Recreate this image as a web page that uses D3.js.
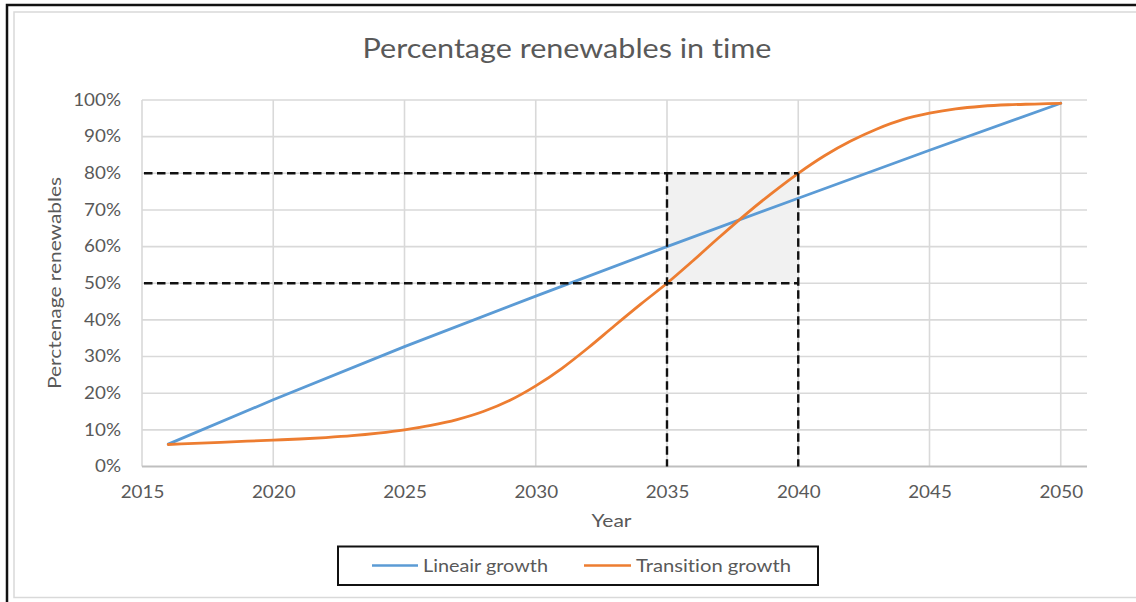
<!DOCTYPE html>
<html>
<head>
<meta charset="utf-8">
<script src="https://cdn.jsdelivr.net/npm/d3@7"></script>
<style>
  html, body { margin: 0; padding: 0; background: #ffffff; }
  svg { display: block; }
  text {
    font-family: Lato, "Open Sans", sans-serif;
    fill: #595959;
    font-variant-ligatures: none;
    font-feature-settings: "liga" 0, "clig" 0;
  }
</style>
</head>
<body>
<svg id="chart" width="1136" height="602"></svg>
<script>
// Years on the horizontal axis and percentage ticks on the vertical axis
const yearTicks = [2015, 2020, 2025, 2030, 2035, 2040, 2045, 2050];
const pctTicks = [0, 10, 20, 30, 40, 50, 60, 70, 80, 90, 100];

// Lineair growth series (year, % renewables)
const linearYears  = [2016, 2020, 2025, 2030, 2035, 2040, 2045, 2050];
const linearValues = [6.1, 18.2, 32.7, 46.5, 60.0, 73.2, 86.3, 99.1];

// Transition growth series (year, % renewables)
const transitionYears  = [2016, 2017, 2018, 2019, 2020, 2021, 2022, 2023, 2024, 2025, 2026,
                          2027, 2028, 2029, 2030, 2031, 2032, 2033, 2034, 2035, 2036, 2037,
                          2038, 2039, 2040, 2041, 2042, 2043, 2044, 2045, 2046, 2047, 2048,
                          2049, 2050];
const transitionValues = [6.0, 6.3, 6.6, 6.9, 7.2, 7.5, 7.9, 8.4, 9.1, 10.0, 11.2,
                          12.8, 15.0, 18.0, 22.0, 26.8, 32.4, 38.4, 44.3, 50.0, 56.2, 62.6,
                          68.8, 74.6, 80.0, 84.8, 88.8, 92.1, 94.7, 96.4, 97.6, 98.3, 98.7,
                          98.9, 99.1];

// Highlighted window: years 2035-2040, 50%-80%
const windowYears = [2035, 2040];
const windowPcts  = [50, 80];

const seriesNames = ["Lineair growth", "Transition growth"];
const seriesColors = ["#5b9bd5", "#ed7d31"];

const svg = d3.select("#chart");

// Stretch a text element horizontally to a given rendered width
function fitWidth(sel, width) {
  sel.attr("textLength", width).attr("lengthAdjust", "spacingAndGlyphs");
}
function scaleWidths(sel, factor) {
  sel.each(function () {
    const w = this.getComputedTextLength();
    d3.select(this).attr("textLength", w * factor).attr("lengthAdjust", "spacingAndGlyphs");
  });
}

// Outer frame and chart-area border
svg.append("path")
  .attr("d", "M7,610 L7,5 L1145,5")
  .attr("fill", "none").attr("stroke", "#111").attr("stroke-width", 2.5);
svg.append("rect")
  .attr("x", 14).attr("y", 12).attr("width", 1140).attr("height", 585.5)
  .attr("fill", "none").attr("stroke", "#d9d9d9").attr("stroke-width", 1.5);

const x = d3.scaleLinear().domain([2015, 2051]).range([142, 1087]);
const y = d3.scaleLinear().domain([0, 100]).range([466.5, 100]);

const plot = svg.append("g");

// Horizontal gridlines
plot.append("g")
  .selectAll("line")
  .data(pctTicks.filter(d => d > 0))
  .join("line")
  .attr("x1", x(2015)).attr("x2", x(2051))
  .attr("y1", d => y(d)).attr("y2", d => y(d))
  .attr("stroke", "#d9d9d9").attr("stroke-width", 1.6);

// Vertical gridlines
plot.append("g")
  .selectAll("line")
  .data(yearTicks)
  .join("line")
  .attr("x1", d => x(d)).attr("x2", d => x(d))
  .attr("y1", y(0)).attr("y2", y(100))
  .attr("stroke", "#d9d9d9").attr("stroke-width", 1.6);

// Baseline
plot.append("line")
  .attr("x1", x(2015)).attr("x2", x(2051))
  .attr("y1", y(0)).attr("y2", y(0))
  .attr("stroke", "#bfbfbf").attr("stroke-width", 1.8);

// Shaded window
plot.append("rect")
  .attr("x", x(windowYears[0])).attr("y", y(windowPcts[1]))
  .attr("width", x(windowYears[1]) - x(windowYears[0]))
  .attr("height", y(windowPcts[0]) - y(windowPcts[1]))
  .attr("fill", "#f1f1f1");

// Axes (labels only)
const xAxis = d3.axisBottom(x).tickValues(yearTicks).tickFormat(d3.format("d")).tickSize(0).tickPadding(0);
const gx = svg.append("g").attr("transform", `translate(0,${y(0) + 26})`).call(xAxis);
gx.select(".domain").remove();
gx.selectAll("text").attr("font-size", 16.5).attr("font-family", "Lato").attr("fill", "#595959")
  .attr("dy", "0.32em");
scaleWidths(gx.selectAll("text"), 1.14);

const yAxis = d3.axisLeft(y).tickValues(pctTicks).tickFormat(d => d + "%").tickSize(0).tickPadding(0);
const gy = svg.append("g").attr("transform", `translate(${x(2015) - 21},0)`).call(yAxis);
gy.select(".domain").remove();
gy.selectAll("text").attr("font-size", 16.5).attr("font-family", "Lato").attr("fill", "#595959");
scaleWidths(gy.selectAll("text"), 1.14);

// Series lines
const linearData = linearYears.map((d, i) => [d, linearValues[i]]);
const transitionData = transitionYears.map((d, i) => [d, transitionValues[i]]);

const line = d3.line().x(d => x(d[0])).y(d => y(d[1]));
const smooth = d3.line().x(d => x(d[0])).y(d => y(d[1])).curve(d3.curveMonotoneX);

plot.append("path").datum(linearData)
  .attr("d", line).attr("fill", "none")
  .attr("stroke", seriesColors[0]).attr("stroke-width", 2.8).attr("stroke-linecap", "round");
plot.append("path").datum(transitionData)
  .attr("d", smooth).attr("fill", "none")
  .attr("stroke", seriesColors[1]).attr("stroke-width", 2.8).attr("stroke-linecap", "round");

// Dashed guide lines
const dashes = svg.append("g")
  .attr("stroke", "#111").attr("stroke-width", 2.4).attr("stroke-dasharray", "8.5,4.5").attr("fill", "none");
windowPcts.forEach(p => {
  dashes.append("line")
    .attr("x1", x(2015) + 2).attr("x2", x(windowYears[1]))
    .attr("y1", y(p)).attr("y2", y(p));
});
windowYears.forEach(yr => {
  dashes.append("line")
    .attr("x1", x(yr)).attr("x2", x(yr))
    .attr("y1", y(windowPcts[1])).attr("y2", y(0));
});

// Title
svg.append("text")
  .attr("x", 567).attr("y", 57.5)
  .attr("text-anchor", "middle")
  .attr("font-size", 26)
  .text("Percentage renewables in time")
  .call(fitWidth, 409);

// Axis titles
svg.append("text")
  .attr("x", 611.5).attr("y", 526.5)
  .attr("text-anchor", "middle")
  .attr("font-size", 17)
  .text("Year")
  .call(fitWidth, 40);

svg.append("text")
  .attr("transform", "translate(61,283) rotate(-90)")
  .attr("text-anchor", "middle")
  .attr("font-size", 17.5)
  .text("Perctenage renewables")
  .call(fitWidth, 212);

// Legend
const legend = svg.append("g");
legend.append("rect")
  .attr("x", 338).attr("y", 546.5).attr("width", 480).attr("height", 38.5)
  .attr("fill", "#fff").attr("stroke", "#111").attr("stroke-width", 2);
const legendItems = [
  { name: seriesNames[0], color: seriesColors[0], x0: 372, x1: 418, tx: 423, w: 125 },
  { name: seriesNames[1], color: seriesColors[1], x0: 584, x1: 631, tx: 636, w: 155 }
];
legendItems.forEach(it => {
  legend.append("line")
    .attr("x1", it.x0).attr("x2", it.x1).attr("y1", 565.5).attr("y2", 565.5)
    .attr("stroke", it.color).attr("stroke-width", 2.6);
  legend.append("text")
    .attr("x", it.tx).attr("y", 571.5)
    .attr("font-size", 17)
    .text(it.name)
    .call(fitWidth, it.w);
});
</script>
</body>
</html>
